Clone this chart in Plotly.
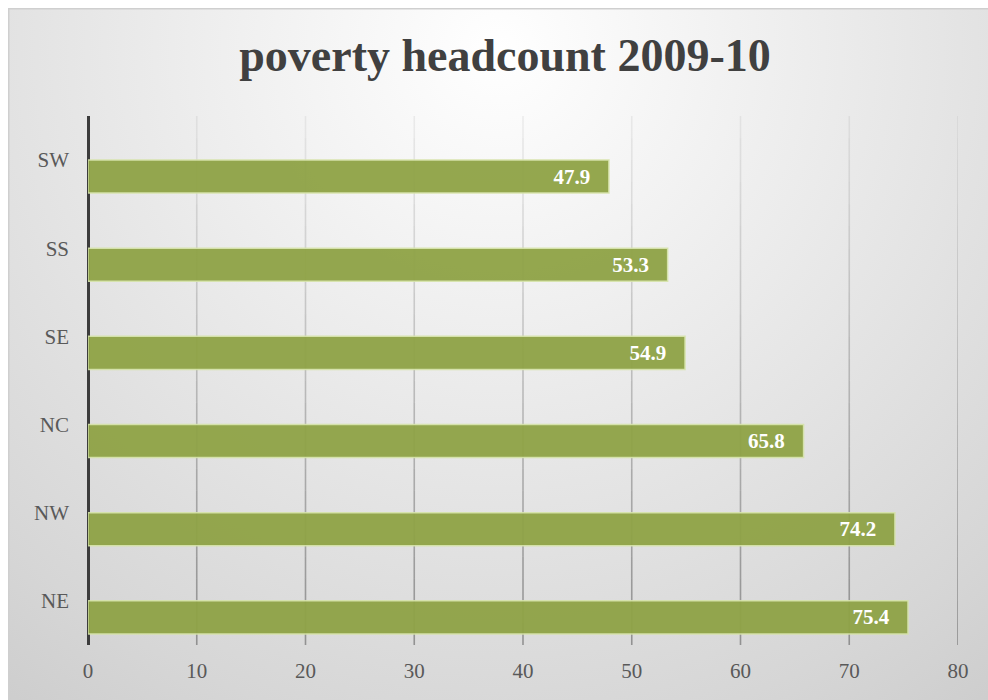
import base64
import plotly.graph_objects as go

# Poverty headcount by geopolitical zone, 2009-10
zones = ["NE", "NW", "NC", "SE", "SS", "SW"]
headcount = [75.4, 74.2, 65.8, 54.9, 53.3, 47.9]
x_ticks = [0, 10, 20, 30, 40, 50, 60, 70, 80]

W, H = 988, 700
L, R, T, B = 88, 30, 116, 55
plot_w = W - L - R
plot_h = H - T - B

# Soft radial backdrop for the chart frame
svg = """<svg xmlns='http://www.w3.org/2000/svg' width='980' height='692' viewBox='0 0 980 692'>
<defs><radialGradient id='g' cx='0.5' cy='0.06' r='0.95' gradientUnits='objectBoundingBox'
 gradientTransform='translate(0.5,0.06) scale(1,1.4) translate(-0.5,-0.06)'>
<stop offset='0' stop-color='#ffffff'/>
<stop offset='0.35' stop-color='#ececec'/>
<stop offset='0.75' stop-color='#d6d6d6'/>
<stop offset='1' stop-color='#c6c6c6'/>
</radialGradient></defs>
<rect x='0' y='0' width='980' height='692' fill='url(#g)'/>
<line x1='0' y1='0.5' x2='980' y2='0.5' stroke='#cfcfcf' stroke-width='2'/>
<line x1='0.5' y1='0' x2='0.5' y2='692' stroke='#cfcfcf' stroke-width='2'/>
</svg>"""
bg_uri = "data:image/svg+xml;base64," + base64.b64encode(svg.encode()).decode()

# bars sit slightly below the centre of each category band
bar_shift = -0.187
bar_pos = [i + bar_shift for i in range(len(zones))]

fig = go.Figure(
    go.Bar(
        x=headcount,
        y=bar_pos,
        orientation="h",
        width=0.375,
        marker=dict(color="#8fa346", opacity=0.95,
                    line=dict(color="rgba(214,228,170,0.95)", width=1.5)),
        text=[f"{v:.1f}\u00a0\u00a0\u00a0" for v in headcount],
        textposition="inside",
        insidetextanchor="end",
        textfont=dict(family="Liberation Serif", size=21, color="white", weight="bold"),
        cliponaxis=False,
        hovertext=zones,
        hoverinfo="x+text",
    )
)

fig.add_layout_image(
    source=bg_uri,
    xref="paper", yref="paper",
    x=(8 - L) / plot_w, y=(H - B - 8) / plot_h,
    sizex=980 / plot_w, sizey=692 / plot_h,
    xanchor="left", yanchor="top",
    sizing="stretch", layer="below",
)

# vertical gridlines that fade out towards the top of the plot
n_seg = 24
for t in x_ticks[1:]:
    for k in range(n_seg):
        y0 = k / n_seg
        y1 = (k + 1) / n_seg
        alpha = 0.55 - 0.47 * ((k + 0.5) / n_seg)
        fig.add_shape(
            type="line", xref="x", yref="paper",
            x0=t, x1=t, y0=y0, y1=y1,
            line=dict(color=f"rgba(85,85,85,{alpha:.3f})", width=1.6),
            layer="below",
        )

fig.update_layout(
    width=W, height=H,
    margin=dict(l=L, r=R, t=T, b=B),
    paper_bgcolor="white",
    plot_bgcolor="rgba(0,0,0,0)",
    showlegend=False,
    title=dict(
        text="poverty headcount 2009-10",
        x=505 / W, xanchor="center",
        y=1 - 55 / H, yanchor="middle",
        font=dict(family="Liberation Serif", size=46, color="#404040", weight="bold"),
    ),
    xaxis=dict(
        range=[0, 80],
        tickvals=x_ticks,
        ticktext=[str(t) for t in x_ticks],
        showgrid=False,
        zeroline=True,
        zerolinecolor="#3c3c3c",
        zerolinewidth=3,
        showline=False,
        ticks="",
        ticklabelstandoff=11,
        tickfont=dict(family="Liberation Serif", size=21, color="#595959"),
    ),
    yaxis=dict(
        range=[-0.5, 5.5],
        tickvals=list(range(len(zones))),
        ticktext=zones,
        showgrid=False,
        zeroline=False,
        showline=False,
        ticks="",
        ticklabelstandoff=18,
        tickfont=dict(family="Liberation Serif", size=21, color="#595959"),
    ),
)

fig.write_html("out.html")
